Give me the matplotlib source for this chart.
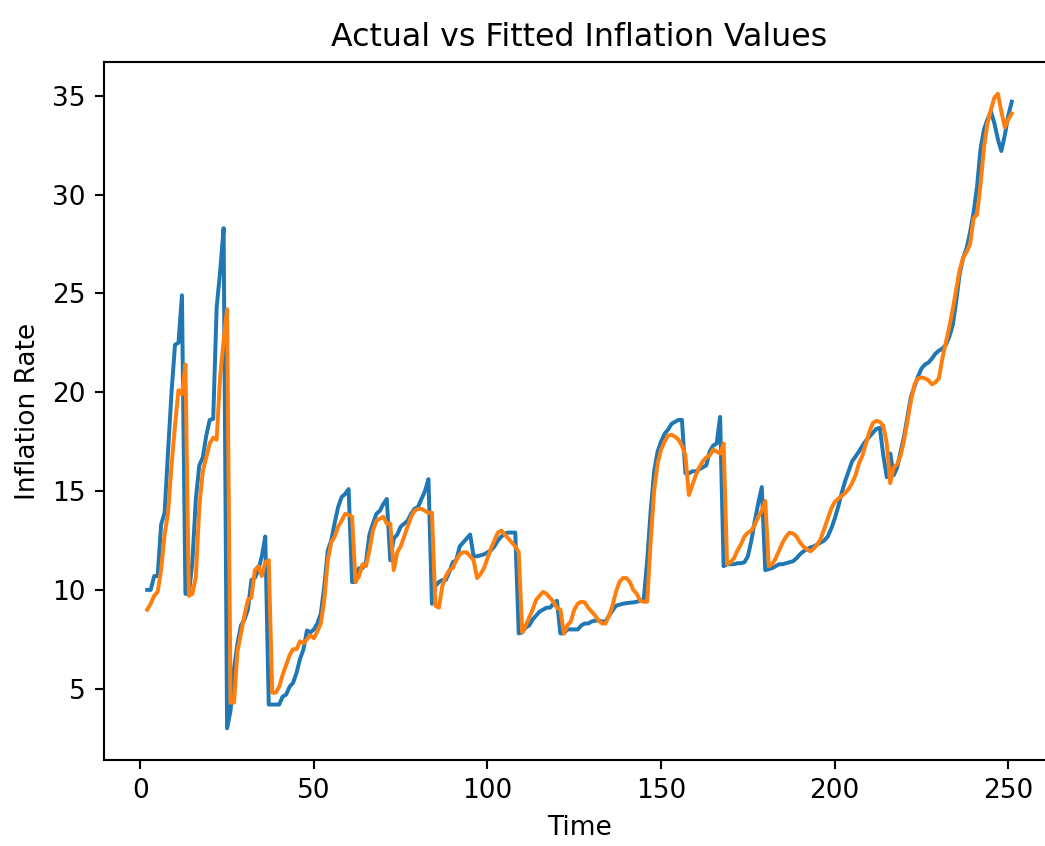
import numpy as np
import matplotlib
matplotlib.use('Agg')
import matplotlib.pyplot as plt

# time index of the fitted model
time = np.arange(2, 252)

# actual inflation values
actual = [10.0, 10.0, 10.7, 10.7, 13.3, 13.9, 17.0, 20.0, 22.4, 22.5,
          24.9, 9.8, 9.8, 11.4, 14.6, 16.3, 16.7, 17.8, 18.6, 18.65,
          24.3, 26.1, 28.3, 3.0, 3.9, 6.0, 7.3, 8.2, 8.5, 9.0,
          10.5, 10.6, 11.0, 11.7, 12.7, 4.2, 4.2, 4.2, 4.2, 4.6,
          4.7, 5.1, 5.3, 5.8, 6.5, 7.0, 7.95, 7.85, 8.0, 8.3,
          8.8, 10.2, 12.0, 12.5, 13.4, 14.2, 14.7, 14.85, 15.1, 10.4,
          10.4, 11.1, 11.1, 11.4, 12.8, 13.35, 13.85, 14.0, 14.35, 14.6,
          11.5, 12.6, 12.8, 13.2, 13.35, 13.5, 13.85, 14.1, 14.2, 14.6,
          15.0, 15.6, 9.3, 10.2, 10.4, 10.5, 10.5, 10.9, 11.4, 11.5,
          12.2, 12.4, 12.6, 12.8, 11.7, 11.7, 11.75, 11.8, 11.9, 12.0,
          12.2, 12.5, 12.7, 12.85, 12.9, 12.9, 12.9, 7.8, 7.85, 8.1,
          8.2, 8.5, 8.7, 8.9, 9.0, 9.1, 9.1, 9.3, 9.45, 7.8,
          7.8, 8.0, 8.0, 8.0, 8.0, 8.2, 8.3, 8.3, 8.4, 8.45,
          8.45, 8.4, 8.4, 8.7, 8.95, 9.2, 9.25, 9.3, 9.33, 9.35,
          9.37, 9.4, 9.45, 9.5, 11.5, 14.0, 16.0, 17.0, 17.5, 17.9,
          18.1, 18.4, 18.5, 18.6, 18.6, 15.9, 15.9, 16.0, 16.0, 16.1,
          16.2, 16.3, 17.0, 17.3, 17.4, 18.75, 11.2, 11.3, 11.3, 11.3,
          11.35, 11.35, 11.4, 11.7, 12.5, 13.5, 14.4, 15.2, 11.0, 11.05,
          11.1, 11.2, 11.3, 11.3, 11.35, 11.4, 11.45, 11.6, 11.8, 11.95,
          12.05, 12.15, 12.2, 12.3, 12.4, 12.5, 12.7, 13.1, 13.6, 14.2,
          14.9, 15.5, 16.0, 16.5, 16.75, 17.0, 17.3, 17.55, 17.75, 17.95,
          18.15, 18.2, 16.8, 15.7, 16.9, 15.8, 16.2, 17.0, 17.8, 18.8,
          19.8, 20.3, 20.8, 21.2, 21.4, 21.5, 21.7, 21.95, 22.1, 22.2,
          22.4, 22.8, 23.4, 24.6, 26.0, 26.8, 27.3, 28.1, 29.1, 30.4,
          32.3, 33.3, 33.8, 34.2, 33.6, 32.8, 32.2, 33.0, 34.0, 34.7]

# fitted values
fitted = [9.0, 9.3, 9.7, 9.9, 11.0, 12.8, 13.9, 16.3, 18.3, 20.1,
          19.9, 21.4, 9.7, 9.8, 10.65, 14.2, 16.0, 16.7, 17.4, 17.7,
          17.6, 20.8, 22.6, 24.2, 4.3, 4.3, 6.9, 7.8, 8.7, 9.5,
          9.6, 11.0, 11.2, 10.7, 11.4, 11.5, 4.8, 4.8, 5.1, 5.7,
          6.2, 6.7, 7.0, 7.0, 7.4, 7.3, 7.5, 7.7, 7.55, 7.9,
          8.3, 9.5, 11.5, 12.4, 12.7, 13.2, 13.5, 13.85, 13.8, 13.7,
          10.4, 10.7, 11.3, 11.2, 12.0, 13.0, 13.5, 13.6, 13.7, 13.35,
          13.35, 11.0, 11.9, 12.2, 12.7, 13.2, 13.7, 14.0, 14.1, 14.1,
          14.0, 13.9, 13.9, 9.2, 9.1, 10.2, 10.7, 11.0, 11.1, 11.5,
          11.8, 11.9, 11.9, 11.7, 11.5, 10.6, 10.8, 11.1, 11.6, 12.1,
          12.5, 12.9, 13.0, 12.8, 12.6, 12.4, 12.2, 11.9, 7.85, 8.2,
          8.6, 9.0, 9.5, 9.7, 9.9, 9.8, 9.6, 9.4, 9.1, 9.0,
          7.8, 8.2, 8.4, 9.0, 9.3, 9.4, 9.37, 9.1, 8.9, 8.7,
          8.45, 8.3, 8.3, 8.7, 9.2, 9.9, 10.4, 10.6, 10.6, 10.4,
          10.0, 9.8, 9.45, 9.4, 9.4, 12.5, 15.0, 16.4, 17.1, 17.5,
          17.8, 17.85, 17.75, 17.6, 17.3, 16.8, 14.8, 15.3, 15.8, 16.2,
          16.5, 16.7, 16.8, 17.1, 17.0, 16.9, 17.4, 11.3, 11.4, 11.6,
          12.0, 12.3, 12.7, 12.9, 13.0, 13.3, 13.7, 14.0, 14.5, 11.2,
          11.3, 11.6, 12.0, 12.4, 12.7, 12.9, 12.85, 12.7, 12.4, 12.2,
          12.05, 11.95, 12.1, 12.3, 12.6, 13.1, 13.6, 14.1, 14.45, 14.6,
          14.75, 14.9, 15.1, 15.4, 15.8, 16.4, 16.8, 17.4, 18.0, 18.45,
          18.55, 18.5, 18.3, 17.4, 15.4, 16.2, 16.35, 16.8, 17.6, 18.6,
          19.6, 20.4, 20.7, 20.75, 20.7, 20.6, 20.4, 20.5, 20.7, 21.7,
          22.5, 23.3, 24.2, 25.2, 26.2, 26.8, 27.1, 27.5, 28.8, 29.0,
          30.5, 32.4, 33.6, 34.3, 34.9, 35.1, 34.2, 33.4, 33.8, 34.1]

fig = plt.figure(figsize=(1045/190., 846/190.), dpi=190)
# axes runs a little past the right edge, like the cropped original
ax = fig.add_axes([104/1045., 86/846., 951/1045., 698/846.])

ax.plot(time, actual, label='Actual')
ax.plot(time, fitted, label='Fitted')

#title and axis labels
ax.set_title("Actual vs Fitted Inflation Values")
ax.set_xlabel('Time')
ax.set_ylabel('Inflation Rate')

fig.savefig('out.png', dpi=190)
